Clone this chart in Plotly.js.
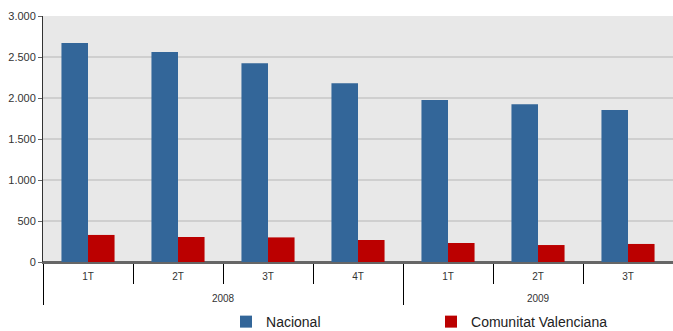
<!DOCTYPE html>
<html>
<head>
<meta charset="utf-8">
<script src="https://cdn.plot.ly/plotly-3.0.1.min.js"></script>
<style>html,body{margin:0;padding:0;background:#fff;}#chart{width:673px;height:331px;}</style>
</head>
<body>
<div id="chart"></div>
<script>
var years = ["2008","2008","2008","2008","2009","2009","2009"];
var quarters = ["1T","2T","3T","4T","1T","2T","3T"];
var nacional = [2670, 2560, 2425, 2180, 1975, 1925, 1855];
var valenciana = [330, 305, 300, 268, 232, 207, 220];
var seriesNames = ["Nacional", "Comunitat Valenciana"];
var yTicks = [0, 500, 1000, 1500, 2000, 2500, 3000];

// outer level labels pushed one line down to leave room below the quarter ticks
var outer = years.map(function(y){ return "<br>" + y; });

var traces = [
  {type:"bar", name:seriesNames[0], x:[outer, quarters], y:nacional, marker:{color:"#336699"}},
  {type:"bar", name:seriesNames[1], x:[outer, quarters], y:valenciana, marker:{color:"#bb0000"}}
];

var layout = {
  width:673, height:331,
  margin:{l:43, r:0, t:16, b:69, pad:0, autoexpand:false},
  paper_bgcolor:"#ffffff",
  plot_bgcolor:"#e8e8e8",
  separators:",.",
  barmode:"group",
  bargap:0.41,
  bargroupgap:0,
  showlegend:true,
  font:{family:"Liberation Sans, Arial, sans-serif", color:"#333333"},
  xaxis:{
    type:"multicategory",
    automargin:false,
    showgrid:false,
    ticks:"outside", ticklen:20, tickcolor:"#000000", tickwidth:1,
    ticklabelstandoff:4,
    showdividers:true, dividercolor:"#000000", dividerwidth:1,
    tickfont:{size:10, color:"#333333"},
    showline:true, linecolor:"#666666", linewidth:2,
    zeroline:false
  },
  yaxis:{
    automargin:false,
    range:[0,3000],
    tickvals:yTicks,
    tickformat:",d",
    showgrid:true, gridcolor:"#cfcfcf", gridwidth:2,
    zeroline:true, zerolinecolor:"#666666", zerolinewidth:2,
    showline:true, linecolor:"#333333", linewidth:1,
    ticks:"outside", ticklen:4, tickcolor:"#666666",
    tickfont:{size:11, color:"#333333"}
  },
  legend:{
    orientation:"h",
    x:0.2905, xanchor:"left",
    y:-0.244, yanchor:"middle",
    entrywidth:160, entrywidthmode:"pixels",
    itemwidth:30,
    font:{size:14, color:"#222222"},
    bgcolor:"rgba(0,0,0,0)"
  }
};
Plotly.newPlot("chart", traces, layout, {displayModeBar:false, staticPlot:true});
</script>
</body>
</html>
